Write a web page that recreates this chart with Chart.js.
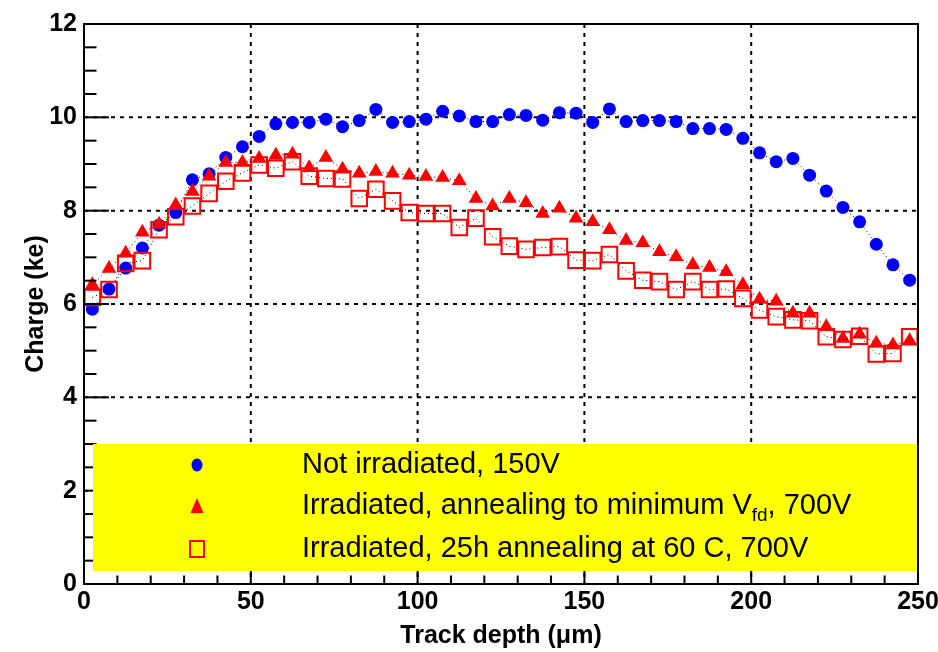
<!DOCTYPE html>
<html>
<head>
<meta charset="utf-8">
<script src="https://cdn.jsdelivr.net/npm/chart.js@4.4.1/dist/chart.umd.min.js"></script>
<style>
  html, body { margin: 0; background: #fff; }
  #wrap { width: 938px; height: 652px; }
</style>
</head>
<body>
<div id="wrap"><canvas id="c"></canvas></div>
<script>
// track depth bin centres (um)
const depth = [2.5, 7.5, 12.5, 17.5, 22.5, 27.5, 32.5, 37.5, 42.5, 47.5,
               52.5, 57.5, 62.5, 67.5, 72.5, 77.5, 82.5, 87.5, 92.5, 97.5,
               102.5, 107.5, 112.5, 117.5, 122.5, 127.5, 132.5, 137.5, 142.5, 147.5,
               152.5, 157.5, 162.5, 167.5, 172.5, 177.5, 182.5, 187.5, 192.5, 197.5,
               202.5, 207.5, 212.5, 217.5, 222.5, 227.5, 232.5, 237.5, 242.5, 247.5];

// charge (ke)
const notIrradiated = [5.89, 6.32, 6.77, 7.20, 7.69, 7.96, 8.66, 8.79, 9.14, 9.37,
                       9.59, 9.86, 9.89, 9.89, 9.96, 9.80, 9.93, 10.17, 9.89, 9.91,
                       9.96, 10.13, 10.03, 9.91, 9.91, 10.06, 10.04, 9.94, 10.10, 10.09,
                       9.89, 10.18, 9.91, 9.93, 9.93, 9.91, 9.76, 9.76, 9.74, 9.55,
                       9.24, 9.05, 9.12, 8.76, 8.42, 8.07, 7.76, 7.28, 6.84, 6.51];

const minVfd = [6.41, 6.76, 7.09, 7.54, 7.71, 8.12, 8.41, 8.74, 9.03, 9.03,
                9.12, 9.19, 9.21, 8.92, 9.14, 8.89, 8.80, 8.84, 8.80, 8.76,
                8.73, 8.71, 8.64, 8.26, 8.10, 8.26, 8.17, 7.94, 8.05, 7.84,
                7.76, 7.59, 7.36, 7.31, 7.12, 7.01, 6.84, 6.78, 6.69, 6.41,
                6.10, 6.06, 5.80, 5.80, 5.51, 5.26, 5.35, 5.16, 5.12, 5.21];

const anneal25h = [6.14, 6.31, 6.87, 6.93, 7.59, 7.87, 8.10, 8.37, 8.63, 8.81,
                   8.98, 8.91, 9.05, 8.74, 8.69, 8.68, 8.26, 8.46, 8.21, 7.96,
                   7.94, 7.94, 7.64, 7.84, 7.44, 7.24, 7.17, 7.21, 7.23, 6.94,
                   6.93, 7.06, 6.71, 6.51, 6.48, 6.31, 6.48, 6.31, 6.32, 6.12,
                   5.87, 5.73, 5.66, 5.64, 5.30, 5.24, 5.31, 4.93, 4.94, 5.30];

const xGridAt = [50, 100, 150, 200];
const yGridAt = [2, 4, 6, 8, 10];

const legendRows = [
  [{ t: 'Not irradiated, 150V' }],
  [{ t: 'Irradiated, annealing to minimum V' }, { t: 'fd', sub: true }, { t: ', 700V' }],
  [{ t: 'Irradiated, 25h annealing at 60 C, 700V' }]
];

const FONT = "'Liberation Sans', Arial, Helvetica, sans-serif";

function pts(ys) {
  return depth.map((x, i) => ({ x: x, y: ys[i] }));
}

function seg(ctx, x1, y1, x2, y2) {
  ctx.beginPath();
  ctx.moveTo(x1, y1);
  ctx.lineTo(x2, y2);
  ctx.stroke();
}

// ROOT-like frame: dotted grid, inward ticks, yellow legend box
const rootFrame = {
  id: 'rootFrame',
  beforeDatasetsDraw(chart) {
    const { ctx, chartArea: a, scales: { x, y } } = chart;
    ctx.save();
    ctx.strokeStyle = '#000';
    ctx.lineWidth = 2;
    ctx.setLineDash([4, 5]);
    xGridAt.forEach(v => {
      const px = x.getPixelForValue(v);
      seg(ctx, px, a.top, px, a.bottom);
    });
    yGridAt.forEach(v => {
      const py = y.getPixelForValue(v);
      seg(ctx, a.left, py, a.right, py);
    });
    ctx.restore();
  },
  afterDatasetsDraw(chart) {
    const { ctx, chartArea: a, scales: { x, y } } = chart;
    ctx.save();
    ctx.strokeStyle = '#000';
    ctx.lineWidth = 2;
    // x ticks, every 10, major every 50
    for (let v = 0; v <= 250; v += 10) {
      const px = x.getPixelForValue(v);
      const len = v % 50 === 0 ? 17 : 8.5;
      seg(ctx, px, a.bottom, px, a.bottom - len);
    }
    // y ticks, every 0.5, major every 2
    for (let v = 0; v <= 12; v += 0.5) {
      const py = y.getPixelForValue(v);
      const len = v % 2 === 0 ? 25 : 12.5;
      seg(ctx, a.left, py, a.left + len, py);
    }

    // legend box
    const bx = a.left + 9, by = a.top + 420;
    ctx.fillStyle = '#ffff00';
    ctx.fillRect(bx, by, a.right - bx, 127);

    const mx = 197, tx = 302;
    const rowY = [465, 506, 549];
    // markers
    ctx.fillStyle = '#0000ff';
    ctx.beginPath();
    ctx.ellipse(mx, rowY[0], 5.5, 6.5, 0, 0, Math.PI * 2);
    ctx.fill();
    ctx.fillStyle = '#ff0000';
    ctx.beginPath();
    ctx.moveTo(mx, rowY[1] - 8);
    ctx.lineTo(mx + 6.5, rowY[1] + 7);
    ctx.lineTo(mx - 6.5, rowY[1] + 7);
    ctx.closePath();
    ctx.fill();
    ctx.strokeStyle = '#ff0000';
    ctx.lineWidth = 2;
    ctx.strokeRect(mx - 7, rowY[2] - 8, 14, 16);

    // labels
    ctx.fillStyle = '#000';
    ctx.textBaseline = 'middle';
    ctx.textAlign = 'left';
    legendRows.forEach((parts, i) => {
      let cx = tx;
      parts.forEach(p => {
        ctx.font = (p.sub ? '19px ' : '29px ') + FONT;
        ctx.fillText(p.t, cx, rowY[i] + (p.sub ? 10 : 0));
        cx += ctx.measureText(p.t).width;
      });
    });

    // frame
    ctx.strokeStyle = '#000';
    ctx.lineWidth = 2;
    ctx.strokeRect(a.left, a.top, a.right - a.left, a.bottom - a.top);
    ctx.restore();
  }
};

const dotted = { showLine: true, borderColor: '#000', borderWidth: 1, borderDash: [1, 3] };

new Chart(document.getElementById('c'), {
  type: 'scatter',
  data: {
    datasets: [
      Object.assign({
        label: 'Not irradiated, 150V',
        data: pts(notIrradiated),
        pointStyle: 'circle',
        pointRadius: 6.5,
        pointBackgroundColor: '#0000ff',
        pointBorderWidth: 0,
        order: 3
      }, dotted),
      Object.assign({
        label: 'Irradiated, annealing to minimum Vfd, 700V',
        data: pts(minVfd),
        pointStyle: 'triangle',
        pointRadius: 8.5,
        pointBackgroundColor: '#ff0000',
        pointBorderWidth: 0,
        order: 2
      }, dotted),
      Object.assign({
        label: 'Irradiated, 25h annealing at 60 C, 700V',
        data: pts(anneal25h),
        pointStyle: 'rect',
        pointRadius: 11,
        pointBackgroundColor: 'rgba(0,0,0,0)',
        pointBorderColor: '#ff0000',
        pointBorderWidth: 2,
        order: 1
      }, dotted)
    ]
  },
  options: {
    responsive: true,
    maintainAspectRatio: false,
    animation: false,
    events: [],
    layout: { autoPadding: false, padding: { top: 24, right: 20, left: 0, bottom: 0 } },
    plugins: { legend: { display: false }, tooltip: { enabled: false } },
    scales: {
      x: {
        type: 'linear', min: 0, max: 250,
        afterFit(s) { s.height = 68; s.paddingLeft = 0; s.paddingRight = 0; },
        grid: { display: false, drawTicks: false },
        border: { display: false },
        ticks: {
          stepSize: 50, padding: 3, color: '#000',
          font: { family: FONT, size: 25, weight: 'bold' }
        },
        title: {
          display: true, text: 'Track depth (μm)', color: '#000',
          padding: { top: 0, bottom: 1 },
          font: { family: FONT, size: 25, weight: 'bold' }
        }
      },
      y: {
        type: 'linear', min: 0, max: 12,
        afterFit(s) { s.width = 84; s.paddingTop = 0; s.paddingBottom = 0; },
        grid: { display: false, drawTicks: false },
        border: { display: false },
        ticks: {
          stepSize: 2, padding: 7, color: '#000',
          font: { family: FONT, size: 25, weight: 'bold' }
        },
        title: {
          display: true, text: 'Charge (ke)', color: '#000',
          padding: { top: 21, bottom: 0 },
          font: { family: FONT, size: 25, weight: 'bold' }
        }
      }
    }
  },
  plugins: [rootFrame]
});
</script>
</body>
</html>
